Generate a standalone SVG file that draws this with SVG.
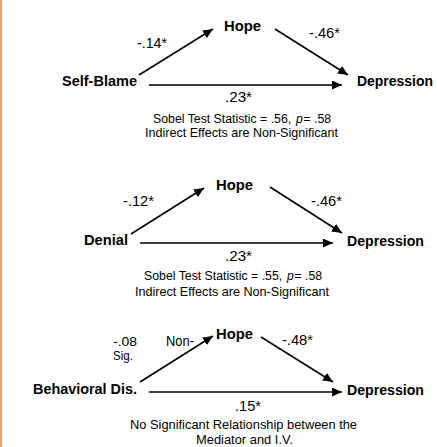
<svg xmlns="http://www.w3.org/2000/svg" width="437" height="447" viewBox="0 0 437 447">
<style>
.b{font-family:"Liberation Sans",Arial,sans-serif;font-weight:bold;font-size:14.5px;fill:#000}
.r{font-family:"Liberation Sans",Arial,sans-serif;font-size:14px;fill:#000}
.t{font-family:"Liberation Sans",Arial,sans-serif;font-size:12.5px;fill:#000}
.s{font-family:"Liberation Sans",Arial,sans-serif;font-size:13px;fill:#000}
.p{font-family:"Liberation Sans",Arial,sans-serif;font-size:12.3px;fill:#000}
.i{font-style:italic}
.c{text-anchor:middle}
.ln{stroke:#000;stroke-width:1.6;fill:none;marker-end:url(#ah)}
</style>
<defs>
<marker id="ah" markerUnits="userSpaceOnUse" markerWidth="11" markerHeight="9" refX="10" refY="4.5" orient="auto">
<path d="M0,0 L10,4.5 L0,9 z" fill="#000"/>
</marker>
</defs>
<rect x="0" y="0" width="437" height="447" fill="#fff"/>
<rect x="0" y="0" width="2" height="447" fill="#F59B6C"/>
<g id="connectors">
<line class="ln" x1="139" y1="75" x2="213" y2="29"/>
<line class="ln" x1="275" y1="29" x2="348" y2="75"/>
<line class="ln" x1="149" y1="85" x2="342" y2="85"/>
<line class="ln" x1="131" y1="234" x2="204" y2="188"/>
<line class="ln" x1="270" y1="187" x2="342" y2="233"/>
<line class="ln" x1="140" y1="243" x2="333" y2="243"/>
<line class="ln" x1="140" y1="382" x2="213" y2="336"/>
<line class="ln" x1="261" y1="337" x2="333" y2="382"/>
<line class="ln" x1="149" y1="392" x2="342" y2="392"/>
</g>
<g id="d1-selfblame"><text class="b" x="62" y="86" textLength="75" lengthAdjust="spacingAndGlyphs">Self-Blame</text></g>
<g id="d1-hope"><text class="b" x="224" y="31" textLength="37" lengthAdjust="spacingAndGlyphs">Hope</text></g>
<g id="d1-depression"><text class="b" x="357" y="86" textLength="76" lengthAdjust="spacingAndGlyphs">Depression</text></g>
<g id="d1-labels">
<text class="r" x="137" y="48" textLength="30" lengthAdjust="spacingAndGlyphs">-.14*</text>
<text class="r" x="309" y="38" textLength="31" lengthAdjust="spacingAndGlyphs">-.46*</text>
<text class="r" x="225" y="102" textLength="27" lengthAdjust="spacingAndGlyphs">.23*</text>
<text class="p" x="153" y="122.5">Sobel Test Statistic = .56,</text>
<text class="p i" x="296" y="122.5">p</text>
<text class="p" x="303.5" y="122.5">= .58</text>
<text class="s c" x="241.5" y="137" textLength="193" lengthAdjust="spacingAndGlyphs">Indirect Effects are Non-Significant</text>
</g>
<g id="d2-denial"><text class="b" x="84" y="245" textLength="44" lengthAdjust="spacingAndGlyphs">Denial</text></g>
<g id="d2-hope"><text class="b" x="216" y="190" textLength="37" lengthAdjust="spacingAndGlyphs">Hope</text></g>
<g id="d2-depression"><text class="b" x="347" y="246" textLength="77" lengthAdjust="spacingAndGlyphs">Depression</text></g>
<g id="d2-labels">
<text class="r" x="123" y="206" textLength="31" lengthAdjust="spacingAndGlyphs">-.12*</text>
<text class="r" x="311" y="206" textLength="31" lengthAdjust="spacingAndGlyphs">-.46*</text>
<text class="r" x="225" y="261" textLength="27" lengthAdjust="spacingAndGlyphs">.23*</text>
<text class="p" x="144" y="280">Sobel Test Statistic = .55,</text>
<text class="p i" x="287" y="280">p</text>
<text class="p" x="294.5" y="280">= .58</text>
<text class="s c" x="232" y="296" textLength="194" lengthAdjust="spacingAndGlyphs">Indirect Effects are Non-Significant</text>
</g>
<g id="d3-behavioral"><text class="b" x="33" y="394" textLength="104" lengthAdjust="spacingAndGlyphs">Behavioral Dis.</text></g>
<g id="d3-hope"><text class="b" x="216" y="339" textLength="37" lengthAdjust="spacingAndGlyphs">Hope</text></g>
<g id="d3-depression"><text class="b" x="347" y="395" textLength="77" lengthAdjust="spacingAndGlyphs">Depression</text></g>
<g id="d3-labels">
<text class="t" x="113" y="346" textLength="24" lengthAdjust="spacingAndGlyphs">-.08</text>
<text class="t" x="113" y="360" textLength="20" lengthAdjust="spacingAndGlyphs">Sig.</text>
<text class="r" x="166" y="346" textLength="28" lengthAdjust="spacingAndGlyphs">Non-</text>
<text class="r" x="282" y="345" textLength="31" lengthAdjust="spacingAndGlyphs">-.48*</text>
<text class="r" x="235" y="411" textLength="26" lengthAdjust="spacingAndGlyphs">.15*</text>
<text class="s c" x="243.5" y="429" textLength="227" lengthAdjust="spacingAndGlyphs">No Significant Relationship between the</text>
<text class="s c" x="244.5" y="444" textLength="97" lengthAdjust="spacingAndGlyphs">Mediator and I.V.</text>
</g>
</svg>
